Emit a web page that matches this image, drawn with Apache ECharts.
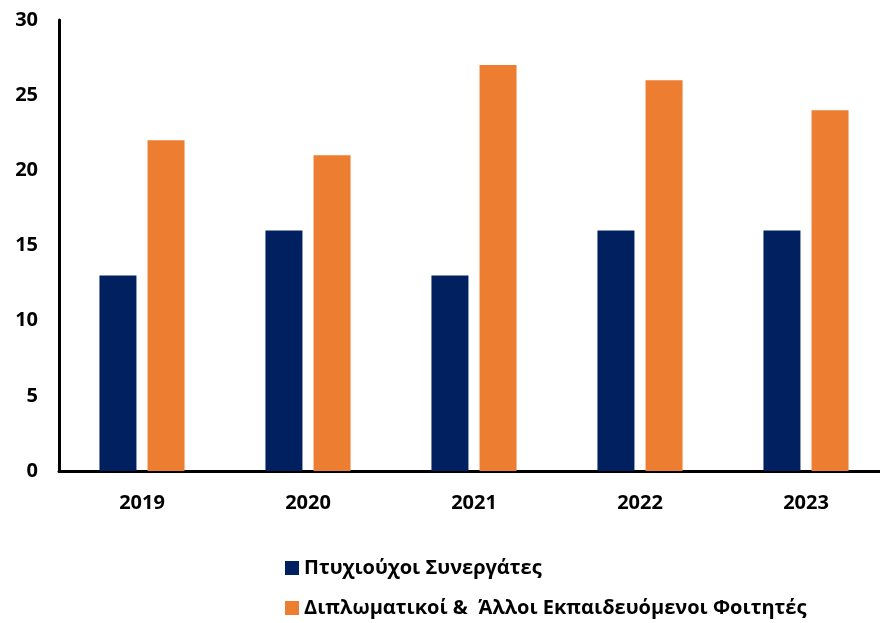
<!DOCTYPE html>
<html>
<head>
<meta charset="utf-8">
<script src="https://cdn.jsdelivr.net/npm/echarts@6/dist/echarts.min.js"></script>
<style>
  html, body { margin: 0; padding: 0; background: #fff; }
  #chart { width: 880px; height: 623px; }
</style>
</head>
<body>
<div id="chart"></div>
<script>
const years = ['2019', '2020', '2021', '2022', '2023']
const graduates = [13, 16, 13, 16, 16]
const students = [22, 21, 27, 26, 24]
const seriesNames = ['Πτυχιούχοι Συνεργάτες', 'Διπλωματικοί &  Άλλοι Εκπαιδευόμενοι Φοιτητές']

const font = '"Open Sans", "Noto Sans", sans-serif'

const chart = echarts.init(document.getElementById('chart'))
chart.setOption({
  animation: false,
  backgroundColor: '#fff',
  textStyle: { fontFamily: font },
  // category band is wider than the canvas, so the axis runs off the right edge
  grid: { left: 59, width: 830, top: 20, height: 451, outerBoundsMode: 'none', containLabel: false },
  legend: {
    orient: 'vertical',
    left: 280,
    top: 553,
    itemGap: 20,
    itemWidth: 14,
    itemHeight: 14,
    icon: 'rect',
    textStyle: { fontFamily: font, fontSize: 20, fontWeight: 'bold', color: '#000' },
    data: seriesNames
  },
  xAxis: {
    type: 'category',
    data: years,
    axisLine: { lineStyle: { color: '#000', width: 3 } },
    axisTick: { show: false },
    axisLabel: { color: '#000', fontSize: 20, fontWeight: 'bold', margin: 22, fontFamily: font }
  },
  yAxis: {
    type: 'value',
    min: 0,
    max: 30,
    interval: 5,
    axisLine: { show: true, lineStyle: { color: '#000', width: 3 } },
    axisTick: { show: false },
    splitLine: { show: false },
    axisLabel: { color: '#000', fontSize: 20, fontWeight: 'bold', margin: 21, fontFamily: font }
  },
  series: [
    {
      name: seriesNames[0],
      type: 'bar',
      data: graduates,
      barWidth: 37,
      barGap: '30%',
      itemStyle: { color: '#002060' }
    },
    {
      name: seriesNames[1],
      type: 'bar',
      data: students,
      barWidth: 37,
      barGap: '30%',
      itemStyle: { color: '#ED7D31' }
    }
  ]
})
</script>
</body>
</html>
